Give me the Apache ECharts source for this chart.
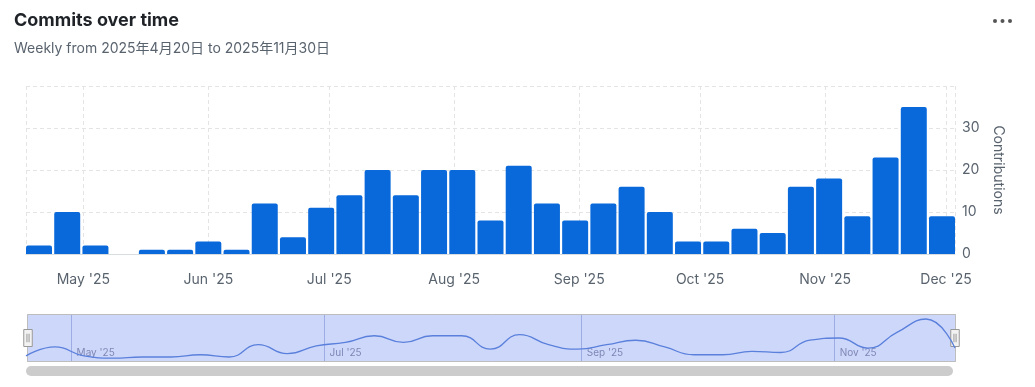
<!DOCTYPE html>
<html>
<head>
<meta charset="utf-8">
<script src="https://cdn.jsdelivr.net/npm/echarts@6/dist/echarts.min.js"></script>
<style>
html,body{margin:0;padding:0;background:#fff;}
#c{width:1035px;height:387px;}
</style>
</head>
<body>
<div id="c"></div>
<script>
// Week start dates (categories)
const weeks = ['2025-04-20','2025-04-27','2025-05-04','2025-05-11','2025-05-18','2025-05-25',
  '2025-06-01','2025-06-08','2025-06-15','2025-06-22','2025-06-29',
  '2025-07-06','2025-07-13','2025-07-20','2025-07-27',
  '2025-08-03','2025-08-10','2025-08-17','2025-08-24','2025-08-31',
  '2025-09-07','2025-09-14','2025-09-21','2025-09-28',
  '2025-10-05','2025-10-12','2025-10-19','2025-10-26',
  '2025-11-02','2025-11-09','2025-11-16','2025-11-23','2025-11-30'];
// Commits per week
const commits = [2,10,2,0,1,1,3,1,12,4,11,14,20,14,20,20,8,21,12,8,12,16,10,3,3,6,5,16,18,9,23,35,9];
// Y axis ticks
const yTicks = [0,10,20,30,40];
const monthNames = ['Jan','Feb','Mar','Apr','May','Jun','Jul','Aug','Sep','Oct','Nov','Dec'];

const DAY = 86400000;
const toTs = s => { const p = s.split('-').map(Number); return new Date(p[0], p[1]-1, p[2]).getTime(); };
const seriesData = weeks.map((w,i) => [toTs(w), commits[i]]);
const firstTs = toTs(weeks[0]);
const lastTs = toTs(weeks[weeks.length-1]);
const fmtMonth = v => { const d = new Date(v); if (d.getDate() !== 1) return ''; return monthNames[d.getMonth()] + " '" + String(d.getFullYear()).slice(2); };
const fmtMonthNav = v => { const d = new Date(v); if (d.getDate() !== 1 || d.getMonth() % 2 !== 0) return ''; return monthNames[d.getMonth()] + " '" + String(d.getFullYear()).slice(2); };

const chart = echarts.init(document.getElementById('c'), null, {renderer:'canvas'});
const font = "Inter, 'Noto Sans', 'Noto Sans CJK SC', sans-serif";
chart.setOption({
  animation:false,
  textStyle:{fontFamily:font},
  title:{
    text:'Commits over time',
    subtext:'Weekly from 2025年4月20日 to 2025年11月30日',
    left:14, top:12, itemGap:12, padding:0,
    textStyle:{fontSize:18, fontWeight:700, color:'#1f2328', fontFamily:font},
    subtextStyle:{fontSize:14, color:'#59636e', fontFamily:font}
  },
  graphic:[
    {type:'circle', shape:{cx:995, cy:21, r:2}, style:{fill:'#555'}},
    {type:'circle', shape:{cx:1002.5, cy:21, r:2}, style:{fill:'#555'}},
    {type:'circle', shape:{cx:1010, cy:21, r:2}, style:{fill:'#555'}},
    {type:'rect', shape:{x:26, y:366, width:927, height:10, r:5}, style:{fill:'#cccccc'}}
  ],
  grid:[
    {left:26, right:80, top:86, height:168},
    {left:26, right:80, top:314, height:48}
  ],
  xAxis:[
    {
      type:'time', gridIndex:0, min:firstTs, max:lastTs,
      minInterval:28*DAY, maxInterval:31*DAY,
      axisLine:{show:true, lineStyle:{color:'#d8dde2'}},
      axisTick:{show:false},
      axisLabel:{formatter:fmtMonth, color:'#59636e', fontSize:14, margin:19, fontFamily:font, hideOverlap:false},
      splitLine:{show:true, lineStyle:{color:'#e4e4e4', type:[4,3]}}
    },
    {
      type:'time', gridIndex:1, min:firstTs, max:lastTs,
      minInterval:28*DAY, maxInterval:31*DAY,
      axisLine:{show:false}, axisTick:{show:false},
      axisLabel:{formatter:fmtMonthNav, inside:true, align:'left', margin:4, padding:[0,0,0,5], color:'#8a8a9a', fontSize:10, fontFamily:font},
      splitLine:{show:true, lineStyle:{color:['rgba(0,0,0,0)','#b8c0e0'], width:1}}
    }
  ],
  yAxis:[
    {
      type:'value', gridIndex:0, position:'right', min:yTicks[0], max:yTicks[yTicks.length-1], interval:10,
      axisLine:{show:false}, axisTick:{show:false},
      axisLabel:{color:'#59636e', fontSize:14, margin:7, showMaxLabel:false, fontFamily:font},
      splitLine:{lineStyle:{color:'#e4e4e4', type:[4,3]}},
      name:'Contributions', nameLocation:'middle', nameRotate:-90, nameGap:36,
      nameTextStyle:{color:'#59636e', fontSize:14, fontFamily:font}
    },
    {type:'value', gridIndex:1, min:-3.5, max:39.5, show:false}
  ],
  dataZoom:[{
    type:'slider', xAxisIndex:[1], start:0, end:100, filterMode:'none',
    left:26, right:80, top:314, height:48,
    showDetail:false, showDataShadow:false, brushSelect:false,
    moveHandleSize:0,
    backgroundColor:'rgba(0,0,0,0)',
    borderColor:'#bdbdbd',
    fillerColor:'rgba(100,130,240,0.32)',
    handleIcon:'path://M0,0 H8 V16 H0 Z M3,4 V12 M5,4 V12',
    handleSize:17,
    handleStyle:{color:'#f2f2f2', borderColor:'#999', borderWidth:1},
    emphasis:{handleStyle:{color:'#f2f2f2', borderColor:'#999'}}
  }],
  series:[
    {
      type:'bar', xAxisIndex:0, yAxisIndex:0, data:seriesData,
      barWidth:26,
      itemStyle:{color:'#0969da', borderRadius:[2,2,0,0]}
    },
    {
      type:'line', xAxisIndex:1, yAxisIndex:1, data:seriesData, smooth:true,
      symbol:'none', z:20, silent:true,
      lineStyle:{color:'#5a80dc', width:1.3}
    }
  ]
});
</script>
</body>
</html>
